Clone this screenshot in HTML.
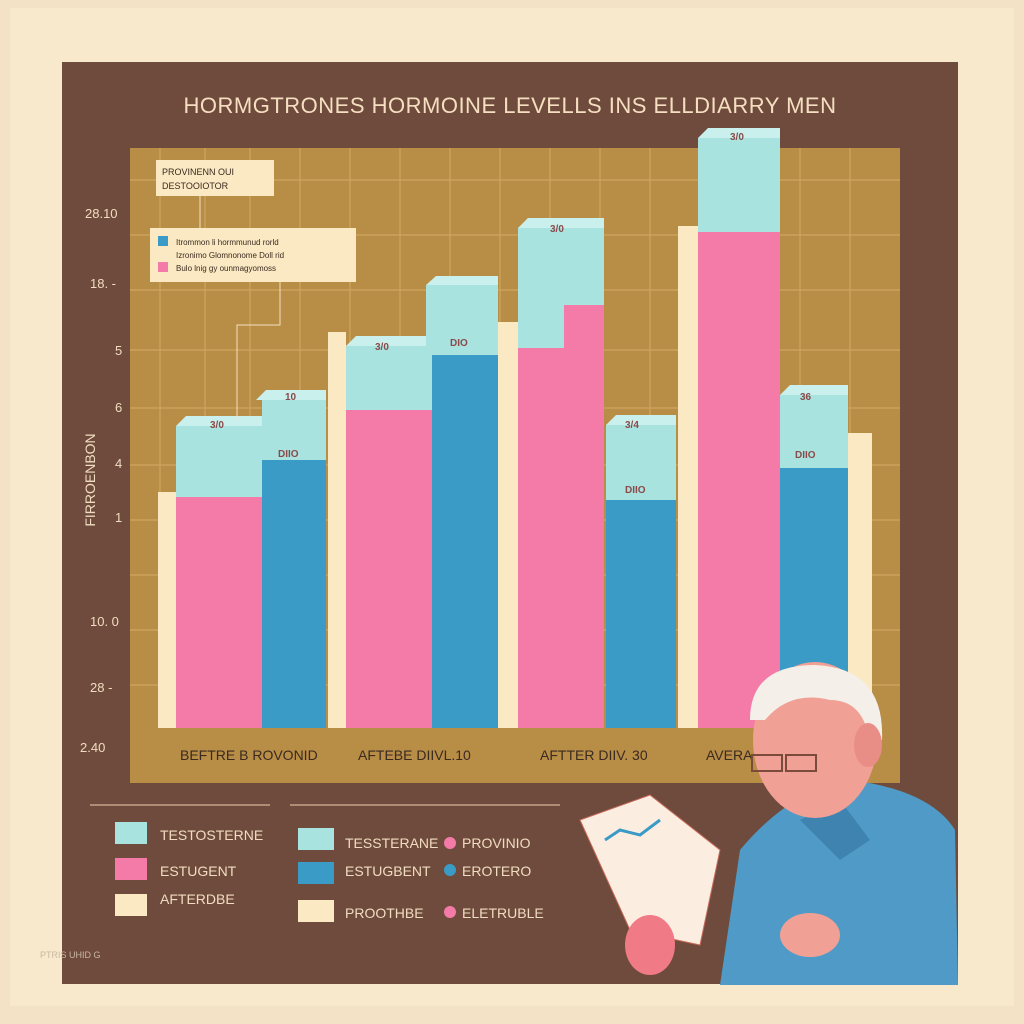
<!DOCTYPE html>
<html><head><meta charset="utf-8"><style>
html,body{margin:0;padding:0;background:#f6e7cc;}
svg{display:block;}
text{font-family:"Liberation Sans",sans-serif;}
</style></head><body>
<svg width="1024" height="1024" viewBox="0 0 1024 1024">
<rect width="1024" height="1024" fill="#f3e2c6"/>
<rect x="10" y="8" width="1004" height="998" fill="#f8e9cd"/>
<rect x="62" y="62" width="896" height="922" fill="#6f4b3d"/>
<text x="510" y="113" font-size="22" fill="#f5dfc0" text-anchor="middle" letter-spacing="0.5">HORMGTRONES HORMOINE LEVELLS INS ELLDIARRY MEN</text>
<!-- plot area -->
<rect x="130" y="148" width="770" height="580" fill="#b88d46"/>
<g stroke="#d4ad6a" stroke-width="1.2" opacity="0.8">
<line x1="130" y1="180" x2="900" y2="180"/><line x1="130" y1="235" x2="900" y2="235"/>
<line x1="130" y1="290" x2="900" y2="290"/><line x1="130" y1="350" x2="900" y2="350"/>
<line x1="130" y1="408" x2="900" y2="408"/><line x1="130" y1="465" x2="900" y2="465"/>
<line x1="130" y1="520" x2="900" y2="520"/><line x1="130" y1="575" x2="900" y2="575"/>
<line x1="130" y1="630" x2="900" y2="630"/><line x1="130" y1="685" x2="900" y2="685"/>
<line x1="160" y1="148" x2="160" y2="728"/><line x1="205" y1="148" x2="205" y2="728"/>
<line x1="250" y1="148" x2="250" y2="728"/><line x1="300" y1="148" x2="300" y2="728"/>
<line x1="350" y1="148" x2="350" y2="728"/><line x1="400" y1="148" x2="400" y2="728"/>
<line x1="450" y1="148" x2="450" y2="728"/><line x1="500" y1="148" x2="500" y2="728"/>
<line x1="550" y1="148" x2="550" y2="728"/><line x1="600" y1="148" x2="600" y2="728"/>
<line x1="650" y1="148" x2="650" y2="728"/><line x1="700" y1="148" x2="700" y2="728"/>
<line x1="750" y1="148" x2="750" y2="728"/><line x1="800" y1="148" x2="800" y2="728"/>
<line x1="850" y1="148" x2="850" y2="728"/>
</g>
<!-- y labels -->
<g font-size="13" fill="#f0dcc0">
<text x="85" y="218">28.10</text><text x="90" y="288">18. -</text><text x="115" y="355">5</text>
<text x="115" y="412">6</text><text x="115" y="468">4</text><text x="115" y="522">1</text>
<text x="90" y="626">10. 0</text><text x="90" y="692">28 -</text><text x="80" y="752">2.40</text>
</g>
<text x="95" y="480" font-size="14" fill="#f0dcc0" transform="rotate(-90 95 480)" text-anchor="middle">FIRROENBON</text>
<!-- bars -->
<g>
<rect x="158" y="492" width="20" height="236" fill="#fbe9c3"/>
<rect x="176" y="497" width="86" height="231" fill="#f47ba7"/><rect x="176" y="426" width="86" height="71" fill="#a9e3df"/><polygon points="176,426 186,416 262,416 262,426" fill="#c9f0ec"/>
<rect x="262" y="460" width="64" height="268" fill="#3b9bc7"/><rect x="262" y="398" width="64" height="62" fill="#a9e3df"/><polygon points="256,400 266,390 326,390 326,400" fill="#c9f0ec"/>
<rect x="328" y="332" width="18" height="396" fill="#fbe9c3"/>
<rect x="346" y="410" width="86" height="318" fill="#f47ba7"/><rect x="346" y="346" width="86" height="64" fill="#a9e3df"/><polygon points="346,346 356,336 432,336 432,346" fill="#c9f0ec"/>
<rect x="432" y="355" width="66" height="373" fill="#3b9bc7"/><rect x="426" y="285" width="72" height="70" fill="#a9e3df"/><polygon points="426,285 436,276 498,276 498,285" fill="#c9f0ec"/>
<rect x="498" y="322" width="20" height="406" fill="#fbe9c3"/>
<rect x="518" y="348" width="86" height="380" fill="#f47ba7"/><rect x="564" y="305" width="40" height="43" fill="#f47ba7"/><rect x="518" y="228" width="86" height="120" fill="#a9e3df"/><rect x="564" y="305" width="40" height="43" fill="#f47ba7"/><polygon points="518,228 528,218 604,218 604,228" fill="#c9f0ec"/>
<rect x="606" y="500" width="70" height="228" fill="#3b9bc7"/><rect x="606" y="425" width="70" height="75" fill="#a9e3df"/><polygon points="606,425 616,415 676,415 676,425" fill="#c9f0ec"/>
<rect x="678" y="226" width="20" height="502" fill="#fbe9c3"/>
<rect x="698" y="232" width="82" height="496" fill="#f47ba7"/><rect x="698" y="138" width="82" height="94" fill="#a9e3df"/><polygon points="698,138 708,128 780,128 780,138" fill="#c9f0ec"/>
<rect x="780" y="468" width="68" height="260" fill="#3b9bc7"/><rect x="780" y="395" width="68" height="73" fill="#a9e3df"/><polygon points="780,395 790,385 848,385 848,395" fill="#c9f0ec"/>
<rect x="848" y="433" width="24" height="295" fill="#fbe9c3"/>
</g>
<g font-size="10" fill="#8a4a4a" font-weight="bold">
<text x="210" y="428">3/0</text><text x="285" y="400">10</text><text x="375" y="350">3/0</text>
<text x="450" y="346">DIO</text><text x="550" y="232">3/0</text><text x="625" y="428">3/4</text>
<text x="278" y="457">DIIO</text><text x="625" y="493">DIIO</text><text x="795" y="458">DIIO</text>
<text x="800" y="400">36</text><text x="730" y="140">3/0</text>
</g>
<!-- annotation boxes -->
<rect x="156" y="160" width="118" height="36" fill="#fbe9c3"/>
<text x="162" y="175" font-size="9" fill="#3a2a20">PROVINENN OUI</text><text x="162" y="189" font-size="9" fill="#3a2a20">DESTOOIOTOR</text>
<line x1="200" y1="196" x2="200" y2="228" stroke="#f5e0c0"/>
<rect x="150" y="228" width="206" height="54" fill="#fbe9c3"/>
<rect x="158" y="236" width="10" height="10" fill="#3b9bc7"/><rect x="158" y="262" width="10" height="10" fill="#f47ba7"/>
<g font-size="8" fill="#3a2a20"><text x="176" y="245">Itrommon li hormmunud rorld</text><text x="176" y="258">Izronimo Glomnonome Doll rid</text><text x="176" y="271">Bulo lnig gy ounmagyomoss</text></g>
<polyline points="280,282 280,325 237,325 237,420" fill="none" stroke="#f5e0c0"/>
<!-- x axis band -->
<rect x="130" y="728" width="770" height="55" fill="#b88d46"/>
<g font-size="14" fill="#3a2a20"><text x="180" y="760">BEFTRE B ROVONID</text><text x="358" y="760">AFTEBE   DIIVL.10</text><text x="540" y="760">AFTTER   DIIV. 30</text><text x="706" y="760">AVERA</text></g>
<!-- legend -->
<line x1="90" y1="805" x2="270" y2="805" stroke="#e8cfae"/><line x1="290" y1="805" x2="560" y2="805" stroke="#e8cfae"/>
<rect x="115" y="822" width="32" height="22" fill="#a9e3df"/><rect x="115" y="858" width="32" height="22" fill="#f47ba7"/><rect x="115" y="894" width="32" height="22" fill="#fbe9c3"/>
<g font-size="14" fill="#f0dcc0"><text x="160" y="840">TESTOSTERNE</text><text x="160" y="876">ESTUGENT</text><text x="160" y="904">AFTERDBE</text>
<text x="345" y="848">TESSTERANE</text><text x="345" y="876">ESTUGBENT</text><text x="345" y="918">PROOTHBE</text>
<text x="462" y="848">PROVINIO</text><text x="462" y="876">EROTERO</text><text x="462" y="918">ELETRUBLE</text></g>
<rect x="298" y="828" width="36" height="22" fill="#a9e3df"/><rect x="298" y="862" width="36" height="22" fill="#3b9bc7"/><rect x="298" y="900" width="36" height="22" fill="#fbe9c3"/>
<circle cx="450" cy="843" r="6" fill="#f47ba7"/><circle cx="450" cy="870" r="6" fill="#3b9bc7"/><circle cx="450" cy="912" r="6" fill="#f47ba7"/>
<text x="40" y="958" font-size="9" fill="#c8b8a0">PTRIS UHID G</text>
<!-- old man -->
<path d="M720,985 L740,850 Q790,790 850,780 Q930,790 955,830 L958,985 Z" fill="#4f9ac6"/>
<path d="M800,820 L840,800 L870,840 L840,860 Z" fill="#3f84b0"/>
<ellipse cx="815" cy="740" rx="62" ry="78" fill="#f0a094"/>
<path d="M750,720 Q750,665 815,665 Q885,668 882,740 L870,745 Q865,700 830,700 Q790,690 765,720 Z" fill="#f4efe8"/>
<ellipse cx="868" cy="745" rx="14" ry="22" fill="#e88e86"/>
<rect x="752" y="755" width="30" height="16" fill="none" stroke="#7a4a3a" stroke-width="2"/><rect x="786" y="755" width="30" height="16" fill="none" stroke="#7a4a3a" stroke-width="2"/>
<polygon points="580,820 650,795 720,850 700,945 630,930" fill="#fbeee0" stroke="#c86a5a"/>
<polyline points="605,840 620,830 640,835 660,820" fill="none" stroke="#3b9bc7" stroke-width="3"/>
<ellipse cx="650" cy="945" rx="25" ry="30" fill="#f07a86"/>
<ellipse cx="810" cy="935" rx="30" ry="22" fill="#f0a094"/>
</svg>
</body></html>
